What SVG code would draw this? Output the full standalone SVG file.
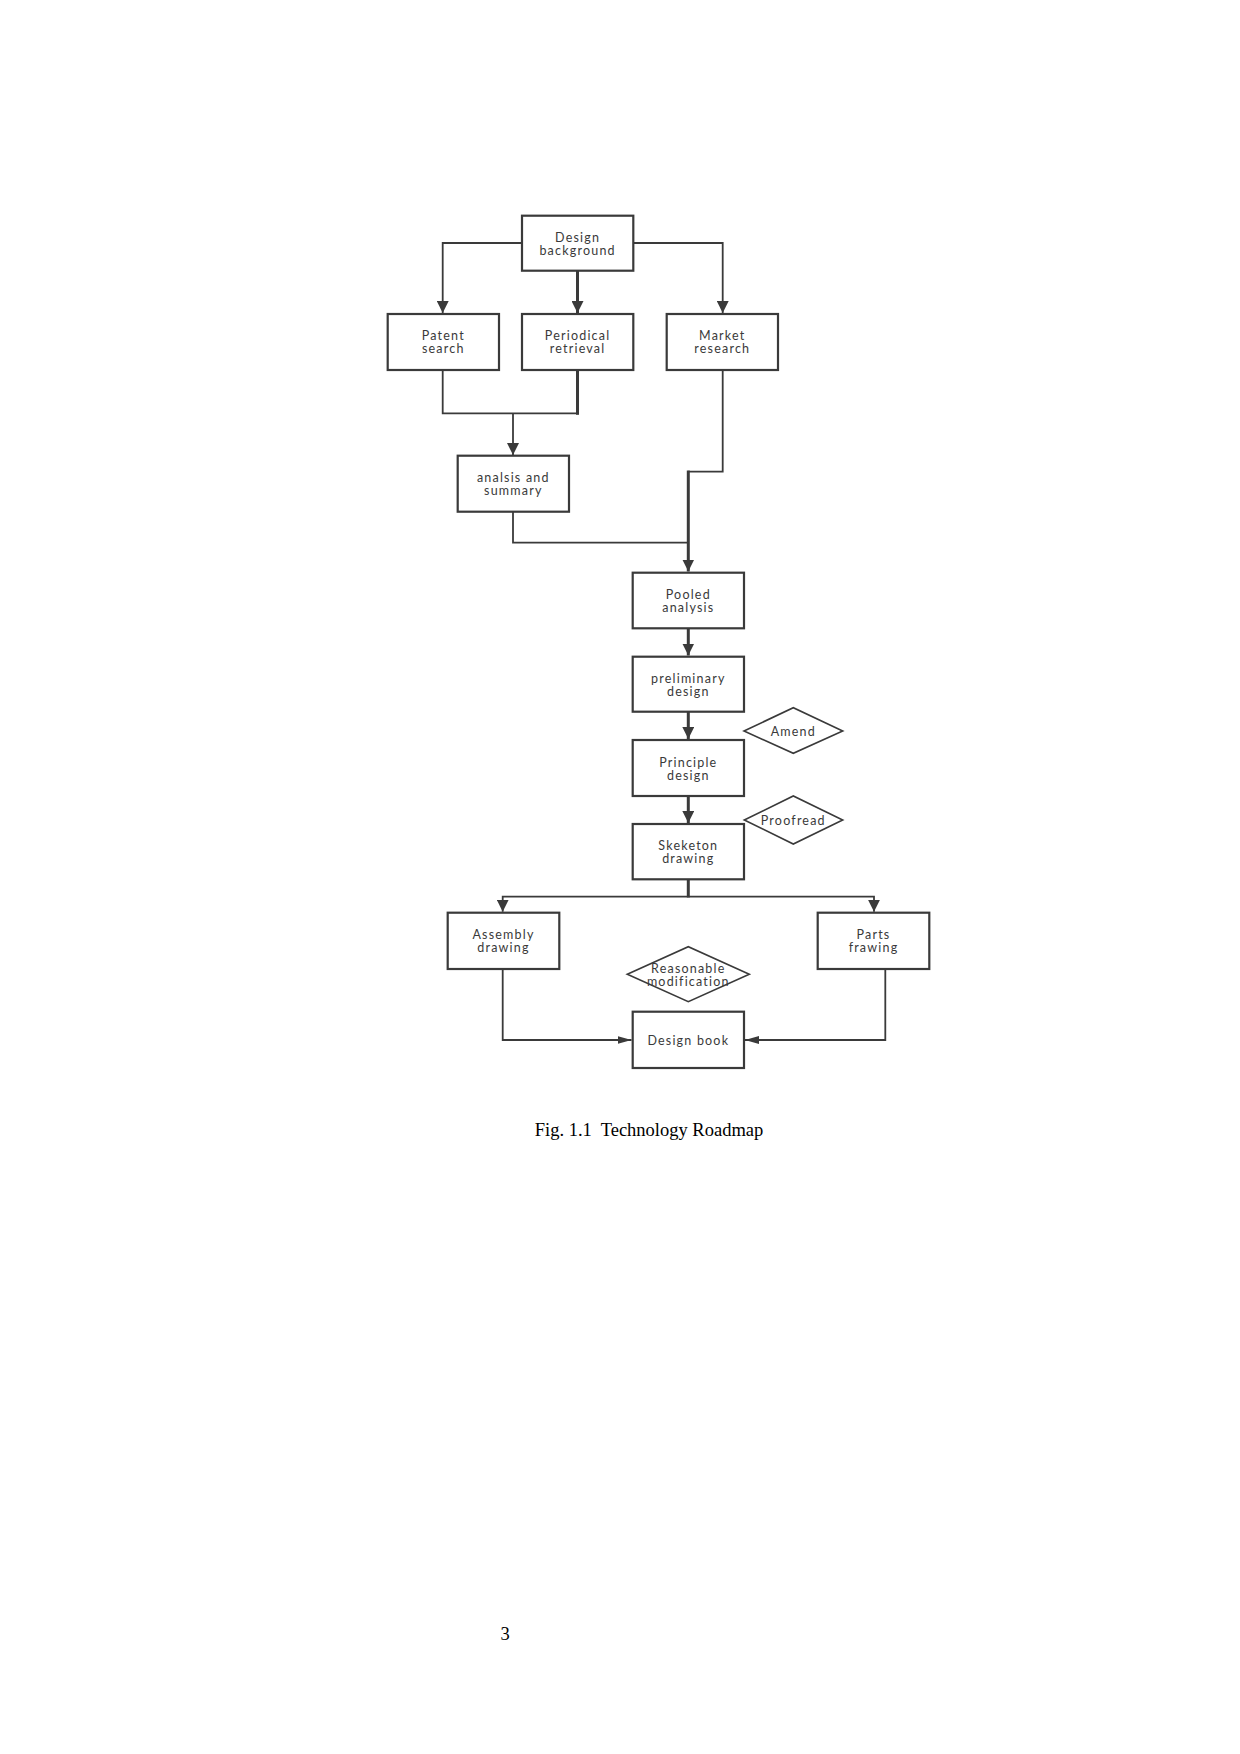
<svg xmlns="http://www.w3.org/2000/svg" width="1240" height="1754" viewBox="0 0 1240 1754">
<style>
.box{fill:#fff;stroke:#3a3a3a;stroke-width:2.2}
.dia{fill:#fff;stroke:#3a3a3a;stroke-width:1.6}
.t{font-family:Lato,"Open Sans","Liberation Sans",sans-serif;font-size:12.5px;fill:#3a3a3a;text-anchor:middle;letter-spacing:1.2px}
.c{fill:none;stroke:#3a3a3a;stroke-width:1.8}
.ck{fill:none;stroke:#3a3a3a;stroke-width:3}
.cap{font-family:"Liberation Serif",serif;font-size:18.5px;fill:#000;text-anchor:middle}
</style>
<defs>
<marker id="ah" markerUnits="userSpaceOnUse" markerWidth="12" markerHeight="12" viewBox="0 0 12 12" refX="12" refY="6" orient="auto">
<path d="M0,0 L12,6 L0,12 z" fill="#3a3a3a"/>
</marker>
<marker id="ahs" markerUnits="userSpaceOnUse" markerWidth="14" markerHeight="8" viewBox="0 0 14 8" refX="14" refY="4" orient="auto">
<path d="M0,0 L14,4 L0,8 z" fill="#3a3a3a"/>
</marker>
</defs>
<rect width="1240" height="1754" fill="#fff"/>
<g id="connectors">
<path class="c" d="M522,243 H442.7 V313" marker-end="url(#ah)"/>
<path class="ck" d="M577.5,271 V313" marker-end="url(#ah)"/>
<path class="c" d="M633,243 H722.7 V313" marker-end="url(#ah)"/>
<path class="c" d="M442.7,370 V413.3 H578.5"/>
<path class="ck" d="M577.5,370 V414.8"/>
<path class="c" d="M513,413.3 V455" marker-end="url(#ah)"/>
<path class="c" d="M722.7,370 V471.7 H688.3"/>
<path class="ck" d="M688.3,470.5 V571.5" marker-end="url(#ah)"/>
<path class="c" d="M513,512 V542.7 H688.3"/>
<path class="ck" d="M688.3,628.5 V655.5" marker-end="url(#ah)"/>
<path class="ck" d="M688.3,712 V739" marker-end="url(#ah)"/>
<path class="ck" d="M688.3,796 V823" marker-end="url(#ah)"/>
<path class="ck" d="M688.3,879.5 V897.5"/>
<path class="c" d="M688.3,896.7 H502.7 V911.7" marker-end="url(#ah)"/>
<path class="c" d="M688.3,896.7 H874 V911.7" marker-end="url(#ah)"/>
<path class="c" d="M502.7,969 V1040 H631.5" marker-end="url(#ahs)"/>
<path class="c" d="M885.3,969 V1040 H745" marker-end="url(#ahs)"/>
</g>
<g id="n-design-background">
<rect class="box" x="522" y="215.7" width="111.3" height="55"/>
<text class="t" x="577.6" y="241.5">Design</text>
<text class="t" x="577.6" y="254.5">background</text>
</g>
<g id="n-patent-search">
<rect class="box" x="387.7" y="314" width="111.3" height="56"/>
<text class="t" x="443.3" y="340">Patent</text>
<text class="t" x="443.3" y="353">search</text>
</g>
<g id="n-periodical-retrieval">
<rect class="box" x="522" y="314" width="111.3" height="56"/>
<text class="t" x="577.6" y="340">Periodical</text>
<text class="t" x="577.6" y="353">retrieval</text>
</g>
<g id="n-market-research">
<rect class="box" x="666.7" y="314" width="111.3" height="56"/>
<text class="t" x="722.3" y="340">Market</text>
<text class="t" x="722.3" y="353">research</text>
</g>
<g id="n-analysis-summary">
<rect class="box" x="457.7" y="455.7" width="111.3" height="56"/>
<text class="t" x="513.3" y="482">analsis and</text>
<text class="t" x="513.3" y="495">summary</text>
</g>
<g id="n-pooled-analysis">
<rect class="box" x="632.7" y="572.7" width="111.3" height="55.6"/>
<text class="t" x="688.3" y="598.5">Pooled</text>
<text class="t" x="688.3" y="611.5">analysis</text>
</g>
<g id="n-preliminary-design">
<rect class="box" x="632.7" y="656.7" width="111.3" height="55"/>
<text class="t" x="688.3" y="682.5">preliminary</text>
<text class="t" x="688.3" y="695.5">design</text>
</g>
<g id="n-amend">
<polygon class="dia" points="744,731 793.3,707.7 842.7,731 793.3,753.3"/>
<text class="t" x="793.3" y="736">Amend</text>
</g>
<g id="n-principle-design">
<rect class="box" x="632.7" y="740" width="111.3" height="56"/>
<text class="t" x="688.3" y="766.5">Principle</text>
<text class="t" x="688.3" y="779.5">design</text>
</g>
<g id="n-proofread">
<polygon class="dia" points="744.3,820 793.3,796 842.7,820 793.3,844"/>
<text class="t" x="793.3" y="825">Proofread</text>
</g>
<g id="n-skeleton-drawing">
<rect class="box" x="632.7" y="824" width="111.3" height="55.3"/>
<text class="t" x="688.3" y="850">Skeketon</text>
<text class="t" x="688.3" y="863">drawing</text>
</g>
<g id="n-assembly-drawing">
<rect class="box" x="447.7" y="912.7" width="111.6" height="56.3"/>
<text class="t" x="503.5" y="939">Assembly</text>
<text class="t" x="503.5" y="952">drawing</text>
</g>
<g id="n-parts-frawing">
<rect class="box" x="817.7" y="912.7" width="111.6" height="56.3"/>
<text class="t" x="873.5" y="939">Parts</text>
<text class="t" x="873.5" y="952">frawing</text>
</g>
<g id="n-reasonable-modification">
<polygon class="dia" points="627.3,974.3 688.3,946.7 749.3,974.3 688.3,1001.7"/>
<text class="t" x="688.3" y="972.5">Reasonable</text>
<text class="t" x="688.3" y="985.5">modification</text>
</g>
<g id="n-design-book">
<rect class="box" x="632.7" y="1011.7" width="111.3" height="56.3"/>
<text class="t" x="688.3" y="1044.5">Design book</text>
</g>
<text class="cap" x="649" y="1135.5" xml:space="preserve">Fig. 1.1  Technology Roadmap</text>
<text class="cap" x="505" y="1640">3</text>
</svg>
